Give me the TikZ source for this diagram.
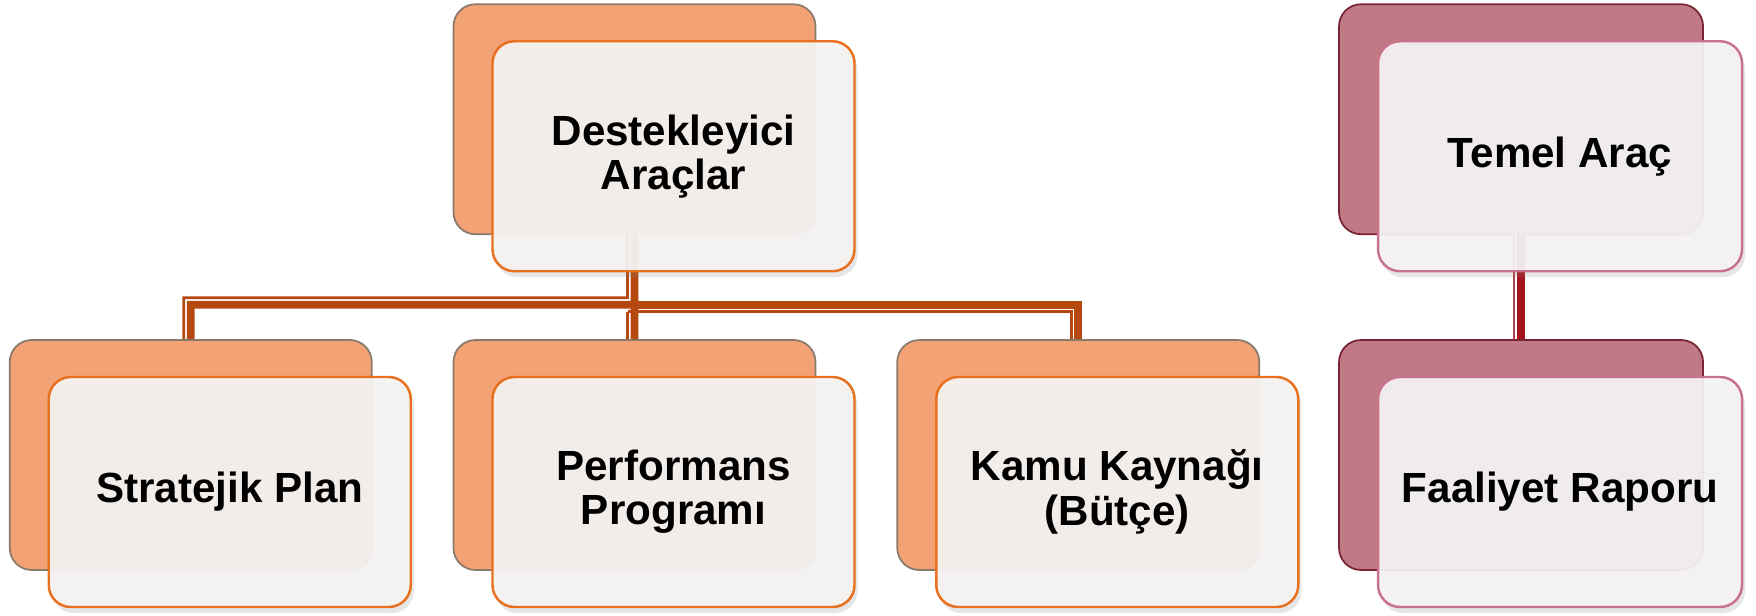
\documentclass[tikz,border=0pt]{standalone}
\usepackage{fontspec}
\setmainfont{Liberation Sans}
\usepackage{tikz}
\usetikzlibrary{positioning,calc,shadows}
\definecolor{toolorange}{HTML}{F2A275}
\definecolor{tooledge}{HTML}{8A7A6C}
\definecolor{cardorange}{HTML}{E8701E}
\definecolor{cardfill}{HTML}{F5F3F2}
\definecolor{linkorange}{HTML}{B5480F}
\definecolor{toolrose}{HTML}{C07A86}
\definecolor{roseedge}{HTML}{7A2535}
\definecolor{cardrose}{HTML}{C87389}
\definecolor{cardpink}{HTML}{F4F2F3}
\definecolor{linkred}{HTML}{A3141D}
\tikzset{
  backbox/.style={rectangle,rounded corners=0.22cm,draw=tooledge,line width=0.5pt,
    fill=toolorange,minimum width=3.62cm,minimum height=2.30cm,inner sep=0pt},
  backrose/.style={backbox,draw=roseedge,fill=toolrose,minimum width=3.64cm},
  card/.style={rectangle,rounded corners=0.22cm,draw=cardorange,line width=0.7pt,
    fill=cardfill,fill opacity=0.94,text opacity=1,minimum width=3.62cm,
    minimum height=2.30cm,inner sep=0pt,align=center,
    font=\bfseries\fontsize{12}{12.6}\selectfont,
    drop shadow={shadow xshift=0.03cm,shadow yshift=-0.06cm,opacity=0.2}},
  cardrs/.style={card,draw=cardrose,fill=cardpink,minimum width=3.64cm},
  link/.style={line width=2.2pt,draw=linkorange},
  linkthin/.style={line width=0.8pt,draw=linkorange},
  linkred/.style={line width=2.4pt,draw=linkred},
  linkredthin/.style={line width=0.8pt,draw=linkred!80}
}
\begin{document}
\begin{tikzpicture}[node distance=1.04cm and 0.80cm]
  \useasboundingbox (0,0) rectangle (17.56,-6.15);
  \node[backbox] (ppB) at (6.345,-4.55) {};
  \node[backbox,left=of ppB] (spB) {};
  \node[backbox,right=of ppB] (kkB) {};
  \node[backbox,above=of ppB] (daB) {};
  \node[backrose,right=0.78cm of kkB] (frB) {};
  \node[backrose,above=of frB] (taB) {};
  \coordinate (hub) at ($(daB.south)!0.67!(ppB.north)$);
  \draw[link] (daB.south) -- (hub) -| (spB.north);
  \draw[link] (hub) -| (kkB.north);
  \draw[link] (hub) -- (ppB.north);
  \draw[linkthin] ([xshift=-0.07cm]daB.south) -- ([shift={(-0.07,0.07)}]hub) -| ([xshift=-0.07cm]spB.north);
  \draw[linkthin] ([shift={(-0.07,-0.07)}]hub) -| ([xshift=-0.07cm]kkB.north);
  \draw[linkthin] ([shift={(-0.07,-0.07)}]hub) -- ([xshift=-0.07cm]ppB.north);
  \draw[linkred] (taB.south) -- (frB.north);
  \draw[linkredthin] ([xshift=-0.07cm]taB.south) -- ([xshift=-0.07cm]frB.north);
  \node[card] (da) at ($(daB)+(0.39,-0.37)$) {Destekleyici\\Araçlar};
  \node[card] (sp) at ($(spB)+(0.39,-0.37)$) {Stratejik Plan};
  \node[card] (pp) at ($(ppB)+(0.39,-0.37)$) {Performans\\Programı};
  \node[card] (kk) at ($(kkB)+(0.39,-0.37)$) {Kamu Kaynağı\\(Bütçe)};
  \node[cardrs] (ta) at ($(taB)+(0.39,-0.37)$) {Temel Araç};
  \node[cardrs] (fr) at ($(frB)+(0.39,-0.37)$) {Faaliyet Raporu};
\end{tikzpicture}
\end{document}
